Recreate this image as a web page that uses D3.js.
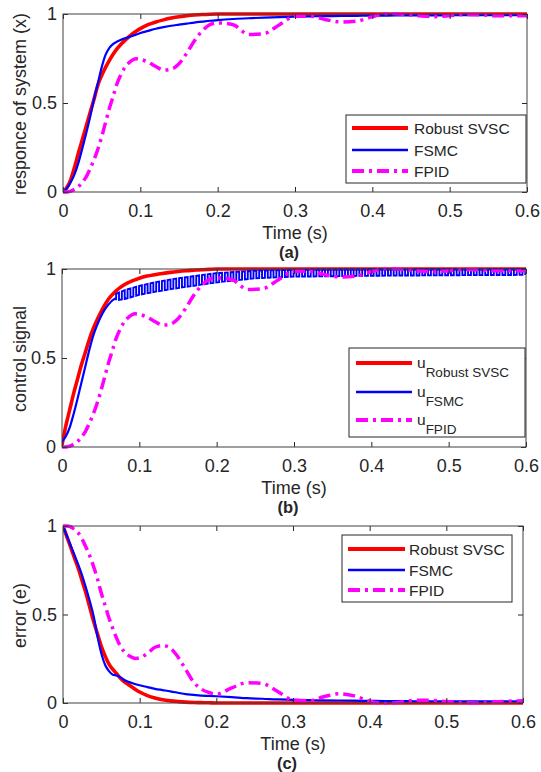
<!DOCTYPE html>
<html>
<head>
<meta charset="utf-8">
<script src="https://cdn.jsdelivr.net/npm/d3@7/dist/d3.min.js"></script>
<style>
  body { margin: 0; background: #fff; }
  text { font-family: "Liberation Sans", Arial, Helvetica, sans-serif; fill: #262626; }
</style>
</head>
<body>
<script>
// time samples (s) shared by the smooth curves
var time = [0, 0.005, 0.01, 0.015, 0.02, 0.025, 0.03, 0.035, 0.04, 0.045, 0.05, 0.055, 0.06, 0.065, 0.07, 0.075, 0.08, 0.085, 0.09, 0.095, 0.1,
  0.11, 0.12, 0.13, 0.14, 0.15, 0.16, 0.17, 0.18, 0.19, 0.2,
  0.22, 0.24, 0.26, 0.28, 0.3, 0.32, 0.34, 0.36, 0.38, 0.4,
  0.42, 0.44, 0.46, 0.48, 0.5, 0.52, 0.54, 0.56, 0.58, 0.6];

// (a) response of system
var svscResponse = [0, 0.025, 0.07, 0.14, 0.22, 0.295, 0.37, 0.445, 0.52, 0.6, 0.655, 0.7, 0.74, 0.775, 0.805, 0.83, 0.852, 0.872, 0.89, 0.905, 0.918,
  0.94, 0.955, 0.967, 0.977, 0.985, 0.99, 0.994, 0.997, 0.999, 1,
  1, 1, 1, 1, 1, 1, 1, 1, 1, 1,
  1, 1, 1, 1, 1, 1, 1, 1, 1, 1];
var fsmcResponse = [0, 0.02, 0.055, 0.1, 0.165, 0.245, 0.33, 0.42, 0.52, 0.61, 0.7, 0.77, 0.81, 0.832, 0.845, 0.855, 0.863, 0.87, 0.877, 0.885, 0.893,
  0.905, 0.917, 0.926, 0.934, 0.94, 0.946, 0.952, 0.957, 0.962, 0.966,
  0.972, 0.976, 0.98, 0.983, 0.985, 0.987, 0.988, 0.989, 0.99, 0.991,
  0.991, 0.992, 0.992, 0.992, 0.993, 0.993, 0.993, 0.993, 0.993, 0.993];
var fpidResponse = [0, 0, 0.005, 0.015, 0.03, 0.055, 0.085, 0.13, 0.18, 0.24, 0.31, 0.39, 0.47, 0.54, 0.61, 0.66, 0.7, 0.725, 0.742, 0.748, 0.745,
  0.73, 0.705, 0.685, 0.69, 0.72, 0.78, 0.85, 0.905, 0.94, 0.95,
  0.94, 0.885, 0.89, 0.94, 0.987, 0.987, 0.968, 0.955, 0.96, 0.985,
  1.003, 0.998, 0.99, 0.985, 0.99, 0.997, 0.995, 0.99, 0.99, 0.99];

// (b) control signal
var svscControl = [0.01, 0.12, 0.21, 0.3, 0.38, 0.46, 0.53, 0.6, 0.66, 0.71, 0.755, 0.795, 0.83, 0.855, 0.877, 0.895, 0.91, 0.922, 0.932, 0.94, 0.948,
  0.96, 0.968, 0.975, 0.981, 0.986, 0.99, 0.993, 0.996, 0.998, 1,
  1, 1, 1, 1, 1, 1, 1, 1, 1, 1,
  1, 1, 1, 1, 1, 1, 1, 1, 1, 1];
var fpidControl = fpidResponse;
// FSMC control: smooth rise, then chattering between a low and a high envelope
var fsmcRiseTime = [0, 0.005, 0.01, 0.015, 0.02, 0.025, 0.03, 0.035, 0.04, 0.045, 0.05, 0.055, 0.06, 0.065, 0.07];
var fsmcRise = [0.03, 0.06, 0.11, 0.185, 0.27, 0.36, 0.45, 0.54, 0.62, 0.68, 0.73, 0.77, 0.8, 0.823, 0.838];
var chatterTime = [0.07, 0.08, 0.1, 0.12, 0.15, 0.2, 0.25, 0.3, 0.4, 0.5, 0.6];
var chatterLow = [0.825, 0.83, 0.855, 0.872, 0.893, 0.925, 0.948, 0.957, 0.962, 0.965, 0.967];
var chatterHigh = [0.86, 0.88, 0.905, 0.925, 0.948, 0.977, 0.99, 0.996, 1.0, 1.0, 1.0];
var chatterPeriod = 0.0074;

// (c) error
var svscError = [1, 0.94, 0.88, 0.82, 0.76, 0.69, 0.62, 0.54, 0.46, 0.39, 0.32, 0.265, 0.22, 0.19, 0.165, 0.14, 0.12, 0.105, 0.09, 0.075, 0.062,
  0.042, 0.028, 0.018, 0.012, 0.008, 0.005, 0.003, 0.002, 0.001, 0,
  0, 0, 0, 0, 0, 0, 0, 0, 0, 0,
  0, 0, 0, 0, 0, 0, 0, 0, 0, 0];
var fsmcError = [1, 0.945, 0.89, 0.835, 0.78, 0.72, 0.65, 0.575, 0.49, 0.375, 0.28, 0.215, 0.18, 0.16, 0.155, 0.145, 0.13, 0.12, 0.113, 0.106, 0.1,
  0.09, 0.08, 0.073, 0.066, 0.058, 0.05, 0.046, 0.042, 0.04, 0.038,
  0.033, 0.027, 0.024, 0.02, 0.018, 0.016, 0.015, 0.014, 0.013, 0.012,
  0.011, 0.011, 0.01, 0.01, 0.01, 0.01, 0.01, 0.01, 0.01, 0.01];
var fpidError = [1, 1, 0.995, 0.98, 0.96, 0.925, 0.88, 0.83, 0.77, 0.7, 0.62, 0.55, 0.48, 0.42, 0.365, 0.32, 0.29, 0.27, 0.258, 0.252, 0.255,
  0.28, 0.315, 0.325, 0.31, 0.26, 0.19, 0.12, 0.08, 0.06, 0.05,
  0.085, 0.115, 0.11, 0.065, 0.017, 0.012, 0.035, 0.052, 0.04, 0.01,
  -0.003, 0.004, 0.015, 0.015, 0.008, 0.002, 0, 0.005, 0.01, 0.013];

// ticks and texts
var xTicks = [0, 0.1, 0.2, 0.3, 0.4, 0.5, 0.6];
var yTicks = [0, 0.5, 1];
var legendNames = ["Robust SVSC", "FSMC", "FPID"];
var yLabels = ["responce of system (x)", "control signal", "error (e)"];
var panelTags = ["(a)", "(b)", "(c)"];
var xLabel = "Time (s)";

// line styles: red, blue, magenta dash-dot
var colors = ["#ff0000", "#0000ff", "#ff00ff"];
var widths = [3.6, 2.2, 3.5];
var dashes = [null, null, "12,5,3,5"];

var w = 541;
var h = 772;

// layout of the three axes and their legends
var panels = [
  {left: 63, right: 527, top: 14, bottom: 192,
   legend: {x: 346, y: 115, w: 180, h: 68, rows: [128, 150, 171], x0: 352, x1: 408, tx: 414, sub: false}},
  {left: 62, right: 526, top: 269, bottom: 447,
   legend: {x: 349, y: 348, w: 176, h: 89, rows: [363, 392, 420], x0: 356, x1: 412, tx: 417, sub: true}},
  {left: 63, right: 523, top: 526, bottom: 703,
   legend: {x: 342, y: 535, w: 170, h: 67, rows: [549, 570, 590], x0: 348, x1: 405, tx: 409, sub: false}}
];

var svg = d3.select("body").append("svg")
    .attr("width", w)
    .attr("height", h);

svg.append("rect").attr("width", w).attr("height", h).attr("fill", "#fff");

function pairs(ts, vs) {
  return ts.map(function(t, i) { return [t, vs[i]]; });
}

function drawPanel(p, idx, series) {
  var x = d3.scaleLinear().domain([0, 0.6]).range([p.left, p.right]);
  var y = d3.scaleLinear().domain([0, 1]).range([p.bottom, p.top]);

  var clipId = "clip" + idx;
  svg.append("clipPath").attr("id", clipId)
    .append("rect")
      .attr("x", p.left).attr("y", p.top - 2)
      .attr("width", p.right - p.left).attr("height", p.bottom - p.top + 4);

  var line = d3.line()
      .x(function(d) { return x(d[0]); })
      .y(function(d) { return y(d[1]); });

  var g = svg.append("g").attr("clip-path", "url(#" + clipId + ")");

  series.forEach(function(s, i) {
    s.forEach(function(part) {
      g.append("path")
        .attr("fill", "none")
        .attr("stroke", colors[i])
        .attr("stroke-width", part.width || widths[i])
        .attr("stroke-dasharray", dashes[i])
        .attr("d", line.curve(part.straight ? d3.curveLinear : d3.curveMonotoneX)(part.points));
    });
  });

  // axes, ticks pointing inward on all four sides
  function styleAxis(a) {
    a.select(".domain").remove();
    a.selectAll("line").attr("stroke", "#262626");
    a.selectAll("text").style("font-size", "18px").attr("fill", "#262626");
  }
  svg.append("g")
    .attr("transform", "translate(0," + p.bottom + ")")
    .call(d3.axisBottom(x).tickValues(xTicks).tickFormat(function(d) { return d; })
      .tickSizeInner(-5).tickSizeOuter(0).tickPadding(12))
    .call(styleAxis);
  svg.append("g")
    .attr("transform", "translate(0," + p.top + ")")
    .call(d3.axisTop(x).tickValues(xTicks).tickFormat("").tickSizeInner(-5).tickSizeOuter(0))
    .call(styleAxis);
  svg.append("g")
    .attr("transform", "translate(" + p.left + ",0)")
    .call(d3.axisLeft(y).tickValues(yTicks).tickFormat(function(d) { return d; })
      .tickSizeInner(-5).tickSizeOuter(0).tickPadding(6))
    .call(styleAxis);
  svg.append("g")
    .attr("transform", "translate(" + p.right + ",0)")
    .call(d3.axisRight(y).tickValues(yTicks).tickFormat("").tickSizeInner(-5).tickSizeOuter(0))
    .call(styleAxis);

  // axes box
  svg.append("rect")
    .attr("x", p.left).attr("y", p.top)
    .attr("width", p.right - p.left).attr("height", p.bottom - p.top)
    .attr("fill", "none")
    .attr("stroke", "#404040")
    .attr("stroke-width", 1);

  // axis titles
  var cx = (p.left + p.right) / 2;
  svg.append("text")
    .attr("x", cx).attr("y", p.bottom + 47)
    .attr("text-anchor", "middle")
    .style("font-size", "18px")
    .text(xLabel);
  svg.append("text")
    .attr("x", cx - 6).attr("y", p.bottom + 65.5)
    .attr("text-anchor", "middle")
    .style("font-size", "16.5px")
    .style("font-weight", "bold")
    .text(panelTags[idx]);
  svg.append("text")
    .attr("transform", "translate(26," + ((p.top + p.bottom) / 2 + 1) + ") rotate(-90)")
    .attr("text-anchor", "middle")
    .style("font-size", "18px")
    .text(yLabels[idx]);

  // legend
  var L = p.legend;
  svg.append("rect")
    .attr("x", L.x).attr("y", L.y).attr("width", L.w).attr("height", L.h)
    .attr("fill", "#fff").attr("stroke", "#262626").attr("stroke-width", 1);
  legendNames.forEach(function(name, i) {
    var ry = L.rows[i];
    svg.append("line")
      .attr("x1", L.x0).attr("x2", L.x1).attr("y1", ry).attr("y2", ry)
      .attr("stroke", colors[i])
      .attr("stroke-width", widths[i] + 0.5)
      .attr("stroke-dasharray", dashes[i]);
    if (L.sub) {
      var t = svg.append("text")
        .attr("x", L.tx).attr("y", ry + 5)
        .style("font-size", "15.5px");
      t.append("tspan").text("u");
      t.append("tspan").attr("dy", 8.5).style("font-size", "13.5px").text(name);
    } else {
      svg.append("text")
        .attr("x", L.tx).attr("y", ry + 5.7)
        .style("font-size", "15.5px")
        .text(name);
    }
  });
}

// build the chattering FSMC control signal from its envelopes
var lowAt = d3.scaleLinear().domain(chatterTime).range(chatterLow);
var highAt = d3.scaleLinear().domain(chatterTime).range(chatterHigh);
var chatter = [];
var up = false;
for (var k = 0; chatterTime[0] + k * chatterPeriod / 2 <= 0.6; k++) {
  var tk = chatterTime[0] + k * chatterPeriod / 2;
  chatter.push([tk, up ? highAt(tk) : lowAt(tk)]);
  up = !up;
  chatter.push([tk, up ? highAt(tk) : lowAt(tk)]);
}

drawPanel(panels[0], 0, [
  [{points: pairs(time, svscResponse)}],
  [{points: pairs(time, fsmcResponse)}],
  [{points: pairs(time, fpidResponse)}]
]);
drawPanel(panels[1], 1, [
  [{points: pairs(time, svscControl)}],
  [{points: pairs(fsmcRiseTime, fsmcRise)}, {points: chatter, straight: true, width: 1.9}],
  [{points: pairs(time, fpidControl)}]
]);
drawPanel(panels[2], 2, [
  [{points: pairs(time, svscError)}],
  [{points: pairs(time, fsmcError)}],
  [{points: pairs(time, fpidError)}]
]);
</script>
</body>
</html>
